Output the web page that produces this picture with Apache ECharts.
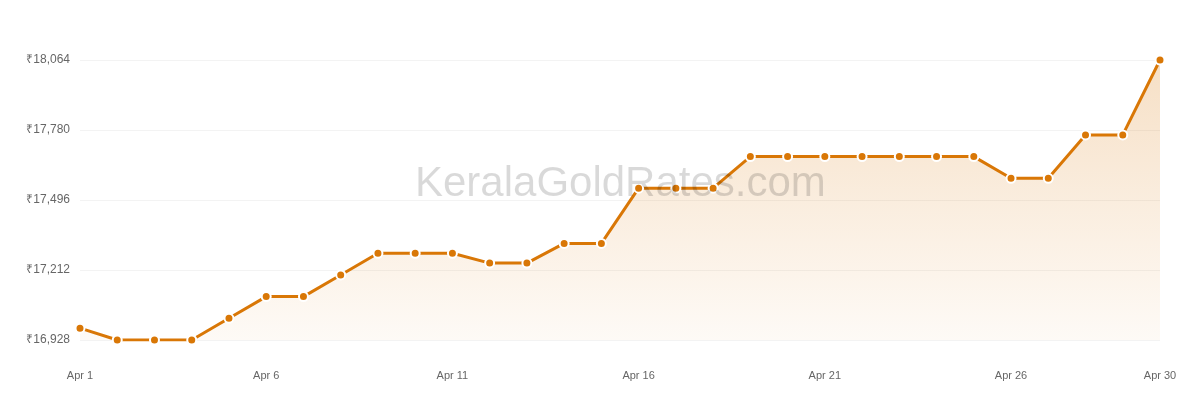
<!DOCTYPE html>
<html>
<head>
<meta charset="utf-8">
<script src="https://cdn.jsdelivr.net/npm/echarts@6/dist/echarts.min.js"></script>
<style>
html,body{margin:0;padding:0;background:#fff;}
#chart{width:1200px;height:400px;}
</style>
</head>
<body>
<div id="chart"></div>
<script>
const categories = ['Apr 1','Apr 2','Apr 3','Apr 4','Apr 5','Apr 6','Apr 7','Apr 8','Apr 9','Apr 10',
  'Apr 11','Apr 12','Apr 13','Apr 14','Apr 15','Apr 16','Apr 17','Apr 18','Apr 19','Apr 20',
  'Apr 21','Apr 22','Apr 23','Apr 24','Apr 25','Apr 26','Apr 27','Apr 28','Apr 29','Apr 30'];
const prices = [16976,16928,16928,16928,17016,17104,17104,17192,17280,17280,
  17280,17240,17240,17320,17320,17544,17544,17544,17672,17672,
  17672,17672,17672,17672,17672,17584,17584,17760,17760,18064];
const yTicks = [16928,17212,17496,17780,18064];
const watermarkText = 'KeralaGoldRates.com';

const chart = echarts.init(document.getElementById('chart'));
chart.setOption({
  animation: false,
  backgroundColor: '#ffffff',
  grid: { left: 80, right: 40, top: 60, bottom: 60 },
  graphic: [{
    type: 'text',
    left: 415,
    top: 163,
    z: 100,
    silent: true,
    style: {
      text: watermarkText,
      fontSize: 42,
      fontFamily: 'Liberation Sans, Arial, sans-serif',
      fill: 'rgba(0,0,0,0.15)'
    }
  }],
  xAxis: {
    type: 'category',
    data: categories,
    boundaryGap: false,
    axisLine: { show: false },
    axisTick: { show: false },
    axisLabel: {
      color: '#666',
      fontSize: 11,
      fontFamily: 'Liberation Sans, Arial, sans-serif',
      margin: 30,
      interval: function (i) { return i % 5 === 0 || i === categories.length - 1; }
    },
    splitLine: { show: false }
  },
  yAxis: {
    type: 'value',
    min: yTicks[0],
    max: yTicks[yTicks.length - 1],
    axisLine: { show: false },
    axisTick: { show: false, customValues: yTicks },
    axisLabel: {
      customValues: yTicks,
      color: '#666',
      fontSize: 12,
      fontFamily: 'Liberation Sans, Arial, sans-serif',
      margin: 10,
      formatter: function (v) { return '₹' + Math.round(v).toLocaleString('en-US'); }
    },
    splitLine: { show: true, lineStyle: { color: '#f3f3f3', width: 1 } }
  },
  series: [{
    type: 'line',
    data: prices,
    symbol: 'circle',
    symbolSize: 9,
    showAllSymbol: true,
    lineStyle: { color: '#d97706', width: 3 },
    itemStyle: { color: '#d97706', borderColor: '#ffffff', borderWidth: 2 },
    areaStyle: {
      color: new echarts.graphic.LinearGradient(0, 0, 0, 1, [
        { offset: 0, color: 'rgba(217,119,6,0.33)' },
        { offset: 1, color: 'rgba(217,119,6,0.05)' }
      ])
    },
    z: 2
  }]
});
</script>
</body>
</html>
